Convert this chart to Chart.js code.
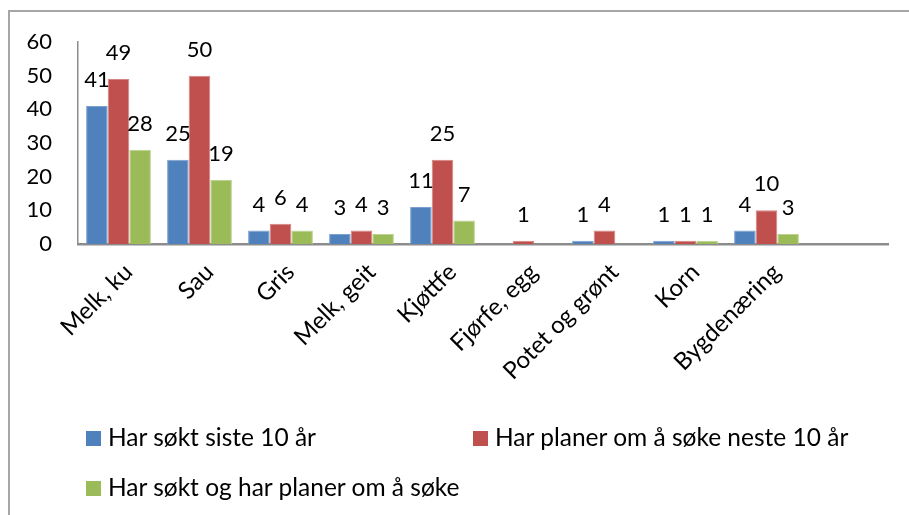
<!DOCTYPE html>
<html>
<head>
<meta charset="utf-8">
<script src="https://cdn.jsdelivr.net/npm/chart.js@4"></script>
<style>
  body { margin: 0; background: #fff; font-family: Lato, sans-serif; }
  .wrap { position: relative; width: 909px; height: 515px; overflow: hidden; }
  .frame { position: absolute; left: 8px; top: 10px; width: 960px; height: 560px; border: 2px solid #a6a6a6; box-sizing: border-box; }
  canvas { position: absolute; left: 0; top: 0; }
  .legend { position: absolute; font-size: 24.5px; line-height: 28px; color: #000; white-space: nowrap; }
  .legend span.box { display: inline-block; width: 15px; height: 15px; margin-right: 7px; vertical-align: 0px; }
</style>
</head>
<body>
<div class="wrap">
  <div class="frame"></div>
  <canvas id="myChart" width="909" height="515"></canvas>
  <div class="legend_place"></div>
</div>
<script>
const categories = ['Melk, ku', 'Sau', 'Gris', 'Melk, geit', 'Kjøttfe', 'Fjørfe, egg', 'Potet og grønt', 'Korn', 'Bygdenæring', ''];
const soktSiste10 = [41, 25, 4, 3, 11, null, 1, 1, 4, null];
const planerNeste10 = [49, 50, 6, 4, 25, 1, 4, 1, 10, null];
const soktOgPlaner = [28, 19, 4, 3, 7, null, null, 1, 3, null];
const yTicks = [0, 10, 20, 30, 40, 50, 60];

const seriesNames = ['Har søkt siste 10 år', 'Har planer om å søke neste 10 år', 'Har søkt og har planer om å søke'];
const colors = ['#4f81bd', '#c0504d', '#9bbb59'];
const edges = ['#7da0cf', '#d48583', '#bcd38f'];

const barLabels = {
    id: 'barLabels',
    afterDatasetsDraw(chart) {
        const ctx = chart.ctx;
        ctx.save();
        ctx.font = '22px Lato';
        ctx.fillStyle = '#000';
        ctx.textAlign = 'center';
        ctx.textBaseline = 'middle';
        chart.data.datasets.forEach((ds, i) => {
            chart.getDatasetMeta(i).data.forEach((bar, j) => {
                if (ds.data[j] == null) return;
                ctx.fillText(String(ds.data[j]), bar.x, bar.y - 26);
            });
        });
        ctx.restore();
    }
};

const ctx = document.getElementById('myChart').getContext('2d');
const myChart = new Chart(ctx, {
    type: 'bar',
    data: {
        labels: categories,
        datasets: [soktSiste10, planerNeste10, soktOgPlaner].map((data, i) => ({
            label: seriesNames[i],
            data: data,
            backgroundColor: colors[i],
            borderColor: edges[i],
            borderWidth: 1,
            categoryPercentage: 0.8,
            barPercentage: 1.0
        }))
    },
    options: {
        responsive: false,
        animation: false,
        layout: { padding: { left: 0, right: 21, top: 42, bottom: 100 } },
        plugins: { legend: { display: false }, tooltip: { enabled: false } },
        scales: {
            x: {
                grid: { display: false },
                border: { color: '#8c8c8c', width: 2.5 },
                ticks: { color: '#000', font: { family: 'Lato', size: 24 }, minRotation: 45, maxRotation: 45, autoSkip: false, padding: 6, labelOffset: 10 },
                afterFit(scale) {
                    scale.height = 171;
                    scale.paddingLeft = 0;
                    scale.paddingRight = 0;
                }
            },
            y: {
                min: 0,
                max: 60,
                afterBuildTicks(scale) { scale.ticks = yTicks.map(v => ({ value: v })); },
                grid: { display: false },
                border: { color: '#8c8c8c', width: 1.5 },
                ticks: { color: '#000', font: { family: 'Lato', size: 22 }, padding: 18 },
                afterFit(scale) { scale.width = 78; }
            }
        }
    },
    plugins: [barLabels]
});

// legend, two columns like the original
const legend_place = document.querySelector('.legend_place');
const legendPos = [[86, 423], [473, 423], [86, 473]];
seriesNames.forEach((name, i) => {
    const item = document.createElement('div');
    item.className = 'legend';
    item.style.left = legendPos[i][0] + 'px';
    item.style.top = legendPos[i][1] + 'px';
    item.innerHTML = `<span class="box" style="background:${colors[i]}"></span>${name}`;
    legend_place.appendChild(item);
});
</script>
</body>
</html>
